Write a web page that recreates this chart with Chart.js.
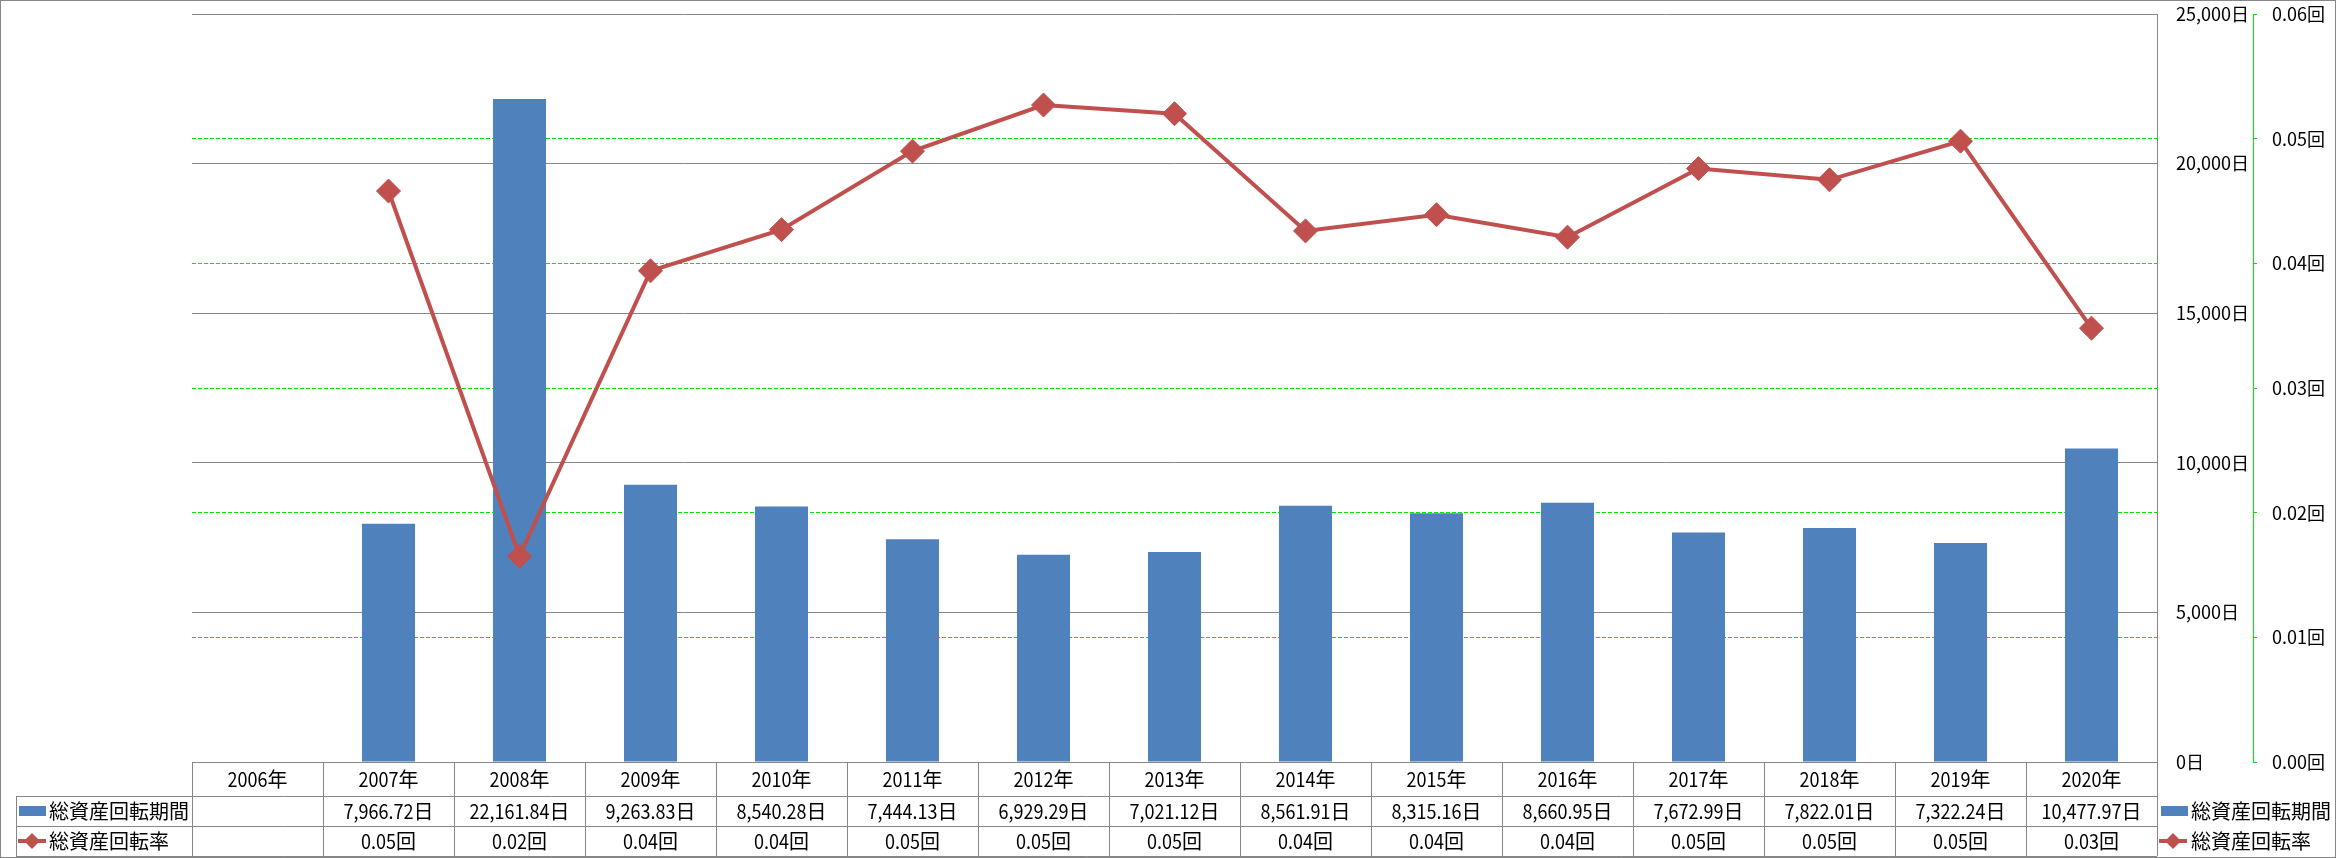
<!DOCTYPE html>
<html>
<head>
<meta charset="utf-8">
<script src="https://cdn.jsdelivr.net/npm/chart.js@4/dist/chart.umd.min.js"></script>
<style>
  html, body { margin: 0; padding: 0; background: #fff; }
  canvas { display: block; }
</style>
</head>
<body>
<canvas id="chart" width="2336" height="858"></canvas>
<script>
// data
const years = ["2006年", "2007年", "2008年", "2009年", "2010年", "2011年", "2012年", "2013年",
  "2014年", "2015年", "2016年", "2017年", "2018年", "2019年", "2020年"];
const turnoverDays = [null, 7966.72, 22161.84, 9263.83, 8540.28, 7444.13, 6929.29, 7021.12,
  8561.91, 8315.16, 8660.95, 7672.99, 7822.01, 7322.24, 10477.97];
const turnoverRate = [null, 0.0458, 0.0165, 0.0394, 0.0427, 0.0490, 0.0527, 0.0520,
  0.0426, 0.0439, 0.0421, 0.0476, 0.0467, 0.0498, 0.0348];
const daysTicks = [0, 5000, 10000, 15000, 20000, 25000];
const rateTicks = [0, 0.01, 0.02, 0.03, 0.04, 0.05, 0.06];

const barLabel = "総資産回転期間";
const lineLabel = "総資産回転率";

const BLUE = "#4F81BD";
const RED = "#C0504D";
const GRAY = "#868686";
const GREEN = "#00E600";
const FONT = '"Noto Sans CJK JP", "Noto Sans", sans-serif';
const NARROW = 0.9; // latin digits in the table are narrower

const fmtDays = (v) => v.toLocaleString("en-US", { minimumFractionDigits: 2, maximumFractionDigits: 2 }) + "日";
const fmtRate = (v) => v.toFixed(2) + "回";

// draw text where ascii runs are squeezed a bit
function drawRuns(ctx, text, x, y, align) {
  const runs = text.match(/[\x00-\x7F]+|[^\x00-\x7F]+/g) || [];
  const isAscii = (r) => /^[\x00-\x7F]/.test(r);
  const widths = runs.map((r) => ctx.measureText(r).width * (isAscii(r) ? NARROW : 1));
  const total = widths.reduce((a, b) => a + b, 0);
  let cx = align === "center" ? x - total / 2 : x;
  runs.forEach((r, i) => {
    ctx.save();
    ctx.translate(cx, y);
    if (isAscii(r)) ctx.scale(NARROW, 1);
    ctx.fillText(r, 0, 0);
    ctx.restore();
    cx += widths[i];
  });
}

function barKey(ctx, x, y) {
  ctx.fillStyle = BLUE;
  ctx.fillRect(x, y - 5, 27, 10);
}

function lineKey(ctx, x, y) {
  ctx.strokeStyle = RED;
  ctx.lineWidth = 4;
  ctx.beginPath();
  ctx.moveTo(x, y);
  ctx.lineTo(x + 28, y);
  ctx.stroke();
  const c = x + 14;
  ctx.fillStyle = RED;
  ctx.beginPath();
  ctx.moveTo(c - 8, y);
  ctx.lineTo(c, y - 8);
  ctx.lineTo(c + 8, y);
  ctx.lineTo(c, y + 8);
  ctx.closePath();
  ctx.fill();
}

const whiteBg = {
  id: "whiteBg",
  beforeDraw(chart) {
    const ctx = chart.ctx;
    ctx.save();
    ctx.fillStyle = "#fff";
    ctx.fillRect(0, 0, chart.width, chart.height);
    ctx.restore();
  }
};

// data table under the plot, with legend keys
const dataTable = {
  id: "dataTable",
  afterDraw(chart) {
    const ctx = chart.ctx;
    const area = chart.chartArea;
    const xs = chart.scales.x;
    const step = xs.getPixelForValue(1) - xs.getPixelForValue(0);
    const top = Math.round(area.bottom);
    const rows = [top, top + 34, top + 64, top + 94];
    const tableLeft = 16;
    const right = Math.round(area.right);

    ctx.save();
    ctx.strokeStyle = GRAY;
    ctx.lineWidth = 1;
    ctx.beginPath();
    // horizontal lines
    ctx.moveTo(Math.round(area.left), rows[0] + 0.5);
    ctx.lineTo(right, rows[0] + 0.5);
    for (let r = 1; r < rows.length; r++) {
      ctx.moveTo(tableLeft, rows[r] + 0.5);
      ctx.lineTo(right, rows[r] + 0.5);
    }
    // vertical lines
    ctx.moveTo(tableLeft + 0.5, rows[1]);
    ctx.lineTo(tableLeft + 0.5, rows[3]);
    for (let i = 0; i <= years.length; i++) {
      const x = Math.round(area.left + i * step) + 0.5;
      ctx.moveTo(x, rows[0]);
      ctx.lineTo(x, rows[3]);
    }
    ctx.stroke();

    // outer border of the picture
    ctx.strokeRect(0.5, 0.5, chart.width - 1, chart.height - 1);

    ctx.fillStyle = "#000";
    ctx.font = "20px " + FONT;
    ctx.textBaseline = "middle";
    ctx.textAlign = "left";
    const midH = (rows[0] + rows[1]) / 2;
    const mid1 = (rows[1] + rows[2]) / 2;
    const mid2 = (rows[2] + rows[3]) / 2;
    years.forEach((y, i) => {
      const cx = xs.getPixelForValue(i);
      ctx.fillStyle = "#000";
      drawRuns(ctx, y, cx, midH, "center");
      if (turnoverDays[i] != null) drawRuns(ctx, fmtDays(turnoverDays[i]), cx, mid1, "center");
      if (turnoverRate[i] != null) drawRuns(ctx, fmtRate(turnoverRate[i]), cx, mid2, "center");
    });

    // row headers
    barKey(ctx, 19, mid1);
    lineKey(ctx, 18, mid2);
    ctx.fillStyle = "#000";
    drawRuns(ctx, barLabel, 49, mid1, "left");
    drawRuns(ctx, lineLabel, 49, mid2, "left");

    // legend at the right
    barKey(ctx, right + 4, mid1);
    lineKey(ctx, right + 2, mid2);
    ctx.fillStyle = "#000";
    drawRuns(ctx, barLabel, right + 34, mid1, "left");
    drawRuns(ctx, lineLabel, right + 34, mid2, "left");
    ctx.restore();
  }
};

const ctx = document.getElementById("chart").getContext("2d");
const chart = new Chart(ctx, {
  type: "bar",
  data: {
    labels: years,
    datasets: [
      {
        type: "line",
        label: lineLabel,
        data: turnoverRate,
        yAxisID: "y1",
        order: 0,
        borderColor: RED,
        borderWidth: 4,
        pointStyle: "rectRot",
        pointRadius: 12,
        pointHoverRadius: 12,
        pointBackgroundColor: RED,
        pointBorderColor: RED,
        pointBorderWidth: 1,
        tension: 0,
        fill: false
      },
      {
        type: "bar",
        label: barLabel,
        data: turnoverDays,
        yAxisID: "y",
        order: 1,
        backgroundColor: BLUE,
        barPercentage: 0.405,
        categoryPercentage: 1.0
      }
    ]
  },
  options: {
    responsive: false,
    animation: false,
    devicePixelRatio: 1,
    layout: { padding: { left: 192, right: 0, top: 14, bottom: 96 } },
    plugins: {
      legend: { display: false },
      tooltip: { enabled: false }
    },
    scales: {
      x: { display: false, offset: true },
      y: {
        position: "right",
        min: 0,
        max: 25000,
        afterBuildTicks: (scale) => { scale.ticks = daysTicks.map((v) => ({ value: v })); },
        afterFit: (scale) => { scale.width = 96; scale.paddingTop = 0; scale.paddingBottom = 0; },
        grid: { color: GRAY, lineWidth: 1, drawTicks: false },
        border: { display: true, color: GRAY, width: 1 },
        ticks: {
          padding: 19,
          crossAlign: "near",
          color: "#000",
          font: { family: FONT, size: 18 },
          callback: (v) => v.toLocaleString("en-US") + "日"
        }
      },
      y1: {
        position: "right",
        min: 0,
        max: 0.06,
        afterBuildTicks: (scale) => { scale.ticks = rateTicks.map((v) => ({ value: v })); },
        afterFit: (scale) => { scale.width = 83; scale.paddingTop = 0; scale.paddingBottom = 0; },
        grid: {
          color: (c) => (c.tick && (c.tick.value === 0.06 || c.tick.value === 0) ? "rgba(0,0,0,0)" : GREEN),
          tickColor: GREEN,
          lineWidth: 1,
          borderDash: [4, 2],
          drawTicks: true,
          tickLength: 4
        },
        border: { display: true, color: GREEN, width: 1, dash: [4, 2] },
        ticks: {
          padding: 15,
          crossAlign: "near",
          color: "#000",
          font: { family: FONT, size: 18 },
          callback: (v) => v.toFixed(2) + "回"
        }
      }
    }
  },
  plugins: [whiteBg, dataTable]
});
</script>
</body>
</html>
